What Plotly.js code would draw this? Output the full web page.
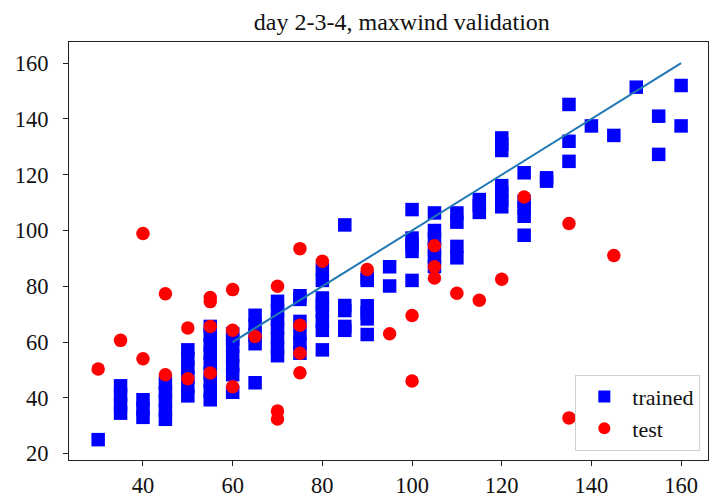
<!DOCTYPE html>
<html>
<head>
<meta charset="utf-8">
<script src="https://cdn.plot.ly/plotly-3.0.1.min.js"></script>
<style>html,body{margin:0;padding:0;background:#fff;}#chart{width:715px;height:504px;}</style>
</head>
<body>
<div id="chart"></div>
<script>
// trained points (blue squares)
const trainedX = [
  30,
  35,35,35,35,
  40,40,40,
  45,45,45,45,45,
  50,50,50,50,50,50,
  55,55,55,55,55,55,55,55,55,
  60,60,60,60,60,60,60,
  65,65,65,65,65,
  70,70,70,70,70,70,70,
  75,75,75,75,75,75,
  80,80,80,80,80,80,80,80,
  85,85,85,85,85,
  90,90,90,90,90,90,
  95,95,
  100,100,100,100,100,
  105,105,105,105,105,105,
  110,110,110,110,
  115,115,115,
  120,120,120,120,120,120,120,
  125,125,125,125,125,
  130,130,
  135,135,135,
  140,
  145,
  150,
  155,155,
  160,160
];
const trainedY = [
  25,
  34.5,37.5,41,44.3,
  33,36,39.3,
  32.3,35.5,39,42,45.3,
  40.7,44,47.5,51,54,57.2,
  39.3,42.5,46,49,52.5,56,59,62.5,65.6,
  42,48.3,51.5,55,58.5,61,63,
  45.4,59.4,62.5,66,69.6,
  55.1,58,61.5,65,68,71.5,74.6,
  56,59.5,63,67.4,75.3,76.6,
  57.2,64.2,67.5,71,73.5,75.8,82.1,86,
  64.2,65.6,71.3,73.1,102,
  62.7,68.3,70.5,73,82.1,83,
  80.1,87,
  82.1,92.5,95,97.3,107.5,
  87.1,90.5,93.5,97,100,106.3,
  90.2,94.3,103,106.3,
  106.5,109,111.1,
  108.5,111,113.5,116.1,128.7,131,133.2,
  98.3,105.1,108,110.5,120.7,
  117.7,118.9,
  124.8,132,145.2,
  137.5,
  134.1,
  151.4,
  127.3,141,
  137.5,152
];
// test points (red circles)
const testX = [30,35,40,40,45,45,50,50,55,55,55,55,60,60,60,65,70,70,70,75,75,75,75,80,90,95,100,100,105,105,105,110,115,120,125,135,135,145];
const testY = [50.3,60.6,98.9,54,77.3,48.3,65,46.8,76,74.5,65.6,48.9,78.8,64.2,44,62,80,35.3,32.4,93.5,66,56,49,89,86,63,69.5,46,94.5,87,83,77.5,75,82.5,112,102.5,32.8,91];
// reference line
const lineX = [60, 160];
const lineY = [60, 160];
// ticks
const xTicks = [40, 60, 80, 100, 120, 140, 160];
const yTicks = [20, 40, 60, 80, 100, 120, 140, 160];
const titleText = "day 2-3-4, maxwind validation";

const serif = "'Liberation Serif', 'Times New Roman', serif";

const traces = [
  {x: trainedX, y: trainedY, type: "scatter", mode: "markers", name: "trained",
   marker: {symbol: "square", size: 13.5, color: "#0000ff", line: {width: 0}}},
  {x: testX, y: testY, type: "scatter", mode: "markers", name: "test",
   marker: {symbol: "circle", size: 13.5, color: "#ff0000", line: {width: 0}}},
  {x: lineX, y: lineY, type: "scatter", mode: "lines", showlegend: false,
   line: {color: "#1f77b4", width: 2}}
];

function axis(range, ticks, standoff) {
  return {
    range: range, tickmode: "array", tickvals: ticks, ticktext: ticks.map(String),
    showgrid: false, zeroline: false, showline: true, mirror: true,
    linecolor: "#222", linewidth: 1, ticks: "outside", ticklen: 5, tickcolor: "#222",
    ticklabelstandoff: standoff,
    tickfont: {family: serif, size: 22.5, color: "#111"}
  };
}

const layout = {
  width: 715, height: 504,
  font: {family: serif, size: 22, color: "#111"},
  margin: {l: 69, r: 7, t: 42, b: 44},
  paper_bgcolor: "#fff", plot_bgcolor: "#fff",
  title: {text: titleText, font: {family: serif, size: 24, color: "#111"}, x: 0.562, xanchor: "center", y: 0.958, yanchor: "middle"},
  xaxis: axis([23.5, 166], xTicks, 0),
  yaxis: axis([17.7, 167.6], yTicks, 10),
  showlegend: true,
  legend: {x: 0.988, y: 0.022, xanchor: "right", yanchor: "bottom",
           bgcolor: "rgba(255,255,255,0.8)", bordercolor: "#d0d0d0", borderwidth: 1,
           font: {family: serif, size: 22, color: "#111"}, itemsizing: "constant", itemwidth: 46,
           tracegroupgap: 0}
};

Plotly.newPlot("chart", traces, layout, {displayModeBar: false, staticPlot: true});
</script>
</body>
</html>
